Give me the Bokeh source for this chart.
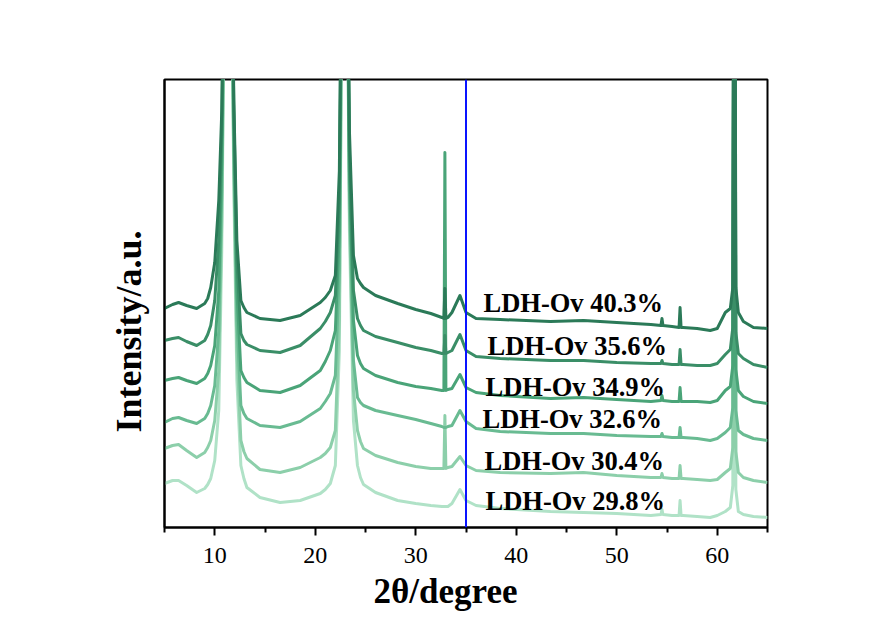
from bokeh.plotting import figure
from bokeh.models import Range1d, FixedTicker, Span, Title
from bokeh.core.properties import value
from bokeh.embed import file_html
from bokeh.resources import INLINE

# 2theta grid (degree)
two_theta = [5.0, 5.8, 6.4, 7.2, 8.2, 9.0, 9.3, 9.6, 10.0, 10.4, 10.7, 11.3, 11.9, 12.2, 12.6, 12.9, 13.2,
             14.5, 16.5, 18.5, 20.5, 21.0, 21.5, 22.0, 22.4, 22.9, 23.4, 23.8, 24.2, 24.5, 24.8, 26.0, 28.2,
             30.0, 31.5, 32.6, 32.8, 32.9, 33.0, 33.2, 33.6, 34.4, 35.0, 36.0, 38.4, 43.4, 46.7,
             50.0, 53.4, 54.4, 54.5, 54.6, 55.5, 56.2, 56.3, 56.4, 56.6, 58.0, 59.3, 60.0, 60.8,
             61.3, 61.55, 61.7, 61.85, 62.1, 62.6, 63.6, 65.0]

# stacked intensities (a.u.)
i_403 = [219, 223, 225, 222, 219, 224, 229, 240, 265, 327, 417, 900, 427, 287, 227, 220, 215,
         209, 207, 212, 225, 230, 237, 252, 357, 900, 397, 272, 249, 244, 240, 232, 224,
         218, 214, 210, 209, 239, 209, 210, 215, 232, 215, 209, 208, 206, 207,
         205, 203, 202, 209, 202, 201, 200, 220, 200, 200, 199, 197, 199, 215,
         219, 240, 900, 240, 215, 206, 200, 199]
i_356 = [187, 189, 190, 186, 182, 187, 193, 202, 227, 287, 397, 900, 417, 267, 194, 187, 183,
         177, 175, 182, 199, 206, 215, 232, 327, 900, 377, 237, 209, 202, 197, 191, 185,
         180, 177, 174, 174, 192, 174, 175, 177, 193, 177, 171, 169, 167, 167,
         165, 164, 164, 167, 164, 163, 163, 178, 163, 163, 162, 162, 164, 173,
         178, 200, 900, 195, 174, 169, 163, 160]
i_349 = [147, 149, 150, 147, 144, 149, 154, 162, 182, 237, 367, 900, 397, 237, 157, 150, 145,
         137, 135, 142, 157, 166, 177, 197, 297, 900, 357, 207, 172, 164, 159, 152, 145,
         141, 139, 137, 137, 375, 137, 138, 139, 153, 140, 135, 132, 129, 130,
         128, 126, 127, 132, 127, 126, 126, 140, 126, 126, 126, 125, 127, 137,
         141, 162, 900, 158, 137, 131, 126, 124]
i_326 = [105, 109, 110, 107, 104, 109, 114, 122, 142, 197, 337, 900, 377, 207, 122, 114, 109,
         102, 100, 106, 119, 126, 134, 152, 257, 900, 337, 167, 130, 125, 122, 117, 112,
         108, 104, 101, 100, 100, 100, 101, 102, 117, 106, 99, 96, 94, 94,
         92, 91, 91, 94, 91, 90, 90, 100, 90, 90, 89, 87, 89, 95,
         100, 120, 900, 117, 97, 93, 89, 87]
i_304 = [79, 82, 83, 77, 70, 75, 80, 87, 107, 157, 307, 900, 357, 177, 87, 76, 69,
         58, 55, 60, 70, 74, 80, 97, 207, 900, 317, 137, 97, 86, 79, 72, 65,
         61, 59, 59, 59, 112, 59, 60, 61, 71, 62, 57, 55, 54, 55,
         52, 50, 50, 54, 50, 49, 49, 62, 49, 49, 48, 47, 48, 55,
         59, 80, 900, 76, 55, 50, 47, 45]
i_298 = [44, 47, 47, 42, 35, 39, 43, 49, 67, 117, 277, 900, 337, 147, 62, 49, 40,
         30, 25, 27, 34, 38, 44, 62, 177, 900, 297, 107, 62, 50, 43, 35, 27,
         24, 22, 21, 21, 21, 21, 21, 24, 38, 27, 22, 19, 16, 15,
         14, 12, 13, 18, 13, 12, 12, 27, 12, 12, 11, 10, 12, 16,
         20, 42, 900, 38, 16, 13, 11, 10]

names = ["LDH-Ov 40.3%", "LDH-Ov 35.6%", "LDH-Ov 34.9%", "LDH-Ov 32.6%", "LDH-Ov 30.4%", "LDH-Ov 29.8%"]
series = [i_403, i_356, i_349, i_326, i_304, i_298]
colors = ["#2b7a58", "#3a8e67", "#4aa478", "#69bb92", "#8ccfaa", "#b0e2c7"]
label_x = [36.74, 37.14, 36.94, 36.64, 36.84, 36.94]
label_y = [225, 182, 141, 109, 67, 27]

x_ticks = [10, 20, 30, 40, 50, 60]
x_minor = [5, 15, 25, 35, 45, 55, 65]
marker_line_x = 35
x_title = "2θ/degree"
y_title = "Intensity/a.u."

p = figure(width=858, height=614, output_backend="svg", toolbar_location=None,
           x_range=Range1d(5, 65), y_range=Range1d(0, 448),
           min_border_left=164, min_border_right=91, min_border_top=79, min_border_bottom=87)
p.background_fill_color = "white"
p.border_fill_color = "white"
p.grid.visible = False
p.outline_line_color = "black"
p.outline_line_width = 2

# lightest first so darker ones sit on top
for ys, c in reversed(list(zip(series, colors))):
    p.line(two_theta, ys, line_color=c, line_width=3, line_join="round")

p.add_layout(Span(location=marker_line_x, dimension="height", line_color="#0a14ff", line_width=2))

p.text(x=label_x, y=label_y, text=names, text_font=value("Liberation Serif"),
       text_font_style="bold", text_font_size="26.5px", text_color="black",
       text_baseline="middle", text_align="left")

# axis titles as side titles, shifted off-centre as in the original
p.add_layout(Title(text=x_title, align="left", offset=209, standoff=8,
                   text_font="Liberation Serif", text_font_style="bold",
                   text_font_size="35px", text_color="black"), "below")
p.add_layout(Title(text=y_title, align="left", offset=95, standoff=31,
                   text_font="Liberation Serif", text_font_style="bold",
                   text_font_size="36px", text_color="black"), "left")

xa = p.xaxis[0]
xa.ticker = FixedTicker(ticks=x_ticks, minor_ticks=x_minor)
xa.major_label_text_font = "Liberation Serif"
xa.major_label_text_font_size = "24px"
xa.major_label_text_color = "black"
xa.major_label_standoff = 12
xa.axis_line_width = 2
xa.axis_line_color = "black"
xa.major_tick_line_width = 2
xa.minor_tick_line_width = 2
xa.major_tick_in = 0
xa.major_tick_out = 8
xa.minor_tick_in = 0
xa.minor_tick_out = 5

ya = p.yaxis[0]
ya.ticker = FixedTicker(ticks=[])
ya.major_label_text_font_size = "0px"
ya.axis_line_width = 2
ya.axis_line_color = "black"
ya.major_tick_line_color = None
ya.minor_tick_line_color = None

open("out.html", "w").write(file_html(p, INLINE))
